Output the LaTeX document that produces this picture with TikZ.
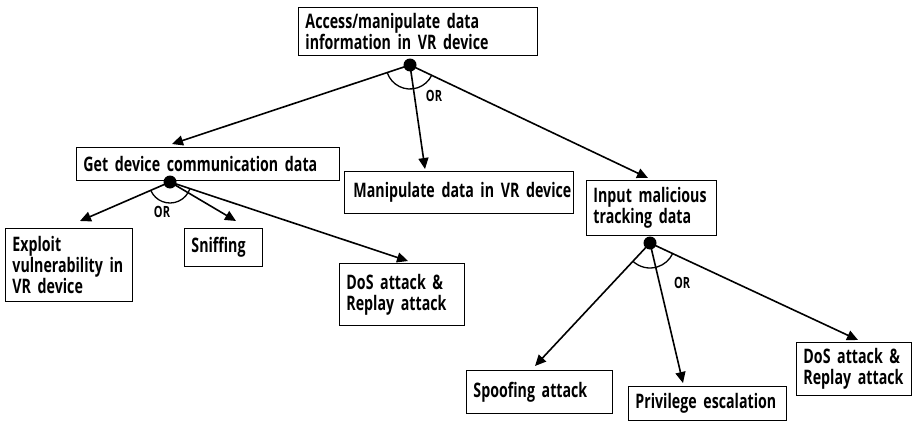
\documentclass[tikz,border=0pt]{standalone}
\usepackage{fontspec}
\setmainfont{Open Sans}[FakeStretch=0.71]
\usetikzlibrary{arrows.meta}
\tikzset{
  box/.style={draw, line width=0.9pt, anchor=north west, align=left, inner xsep=7pt, inner ysep=0pt,
    font=\fontsize{20}{21}\selectfont\bfseries, execute at begin node={\hyphenpenalty=10000\exhyphenpenalty=10000}},
  arr/.style={line width=1.6pt, -{Triangle[length=11pt,width=10pt]}},
  dotn/.style={circle, fill=black, inner sep=0pt, minimum size=13pt},
  orarc/.style={line width=1.3pt},
  orlab/.style={font=\fontsize{15.5}{17}\selectfont\bfseries},
}
\begin{document}
\begin{tikzpicture}[x=1pt,y=-1pt]
\useasboundingbox (0,0) rectangle (917,428);
% boxes
\node[box, text width=225pt, minimum height=48pt] (root) at (298,7) {\mbox{Access/manipulate data}\\\mbox{information in VR device}};
\node[box, text width=249pt, minimum height=33pt] (get) at (76,147) {\mbox{Get device communication data}};
\node[box, text width=215pt, minimum height=42pt] (man) at (344,171) {\hspace*{2pt}\mbox{Manipulate data in VR device}};
\node[box, text width=116pt, minimum height=55pt] (inp) at (586,180) {\mbox{Input malicious}\\\mbox{tracking data}};
\node[box, text width=113pt, minimum height=73pt] (exp) at (5,228) {Exploit\\\mbox{vulnerability in}\\VR device};
\node[box, text width=64pt, minimum height=38pt] (sni) at (184,228) {Sniffing};
\node[box, text width=111pt, minimum height=62pt] (dos1) at (339,263) {\mbox{DoS attack \&}\\\mbox{Replay attack}};
\node[box, text width=132pt, minimum height=43pt] (spo) at (466,370) {\mbox{Spoofing attack}};
\node[box, text width=144pt, minimum height=34pt] (pri) at (628,386) {\mbox{Privilege escalation}};
\node[box, text width=101pt, minimum height=53pt] (dos2) at (796,342) {\mbox{DoS attack \&}\\\mbox{Replay attack}};
% dots
\node[dotn] (d1) at (410,65) {};
\node[dotn] (d2) at (170,182) {};
\node[dotn] (d3) at (650,243) {};
% arrow end points
\coordinate (t1a) at (172,144);
\coordinate (t1b) at (425,169);
\coordinate (t1c) at (648,178);
\coordinate (t2a) at (80,221);
\coordinate (t2b) at (236,221);
\coordinate (t2c) at (408,261);
\coordinate (t3a) at (535,366);
\coordinate (t3b) at (683,383);
\coordinate (t3c) at (858,340);
\draw[arr] (d1.center) -- (t1a);
\draw[arr] (d1.center) -- (t1b);
\draw[arr] (d1.center) -- (t1c);
\draw[arr] (d2.center) -- (t2a);
\draw[arr] (d2.center) -- (t2b);
\draw[arr] (d2.center) -- (t2c);
\draw[arr] (d3.center) -- (t3a);
\draw[arr] (d3.center) -- (t3b);
\draw[arr] (d3.center) -- (t3c);
% OR arcs
\draw[orarc] ([shift={(198.6:24pt)}]d1.center) arc[start angle=198.6, end angle=334.8, radius=24pt];
\draw[orarc] ([shift={(204:21pt)}]d2.center) arc[start angle=204, end angle=341.4, radius=21pt];
\draw[orarc] ([shift={(227:25pt)}]d3.center) arc[start angle=227, end angle=335, radius=25pt];
\node[orlab] (or1) at (434,96) {OR};
\node[orlab] (or2) at (162,212) {OR};
\node[orlab] (or3) at (682,283) {OR};
\end{tikzpicture}
\end{document}
